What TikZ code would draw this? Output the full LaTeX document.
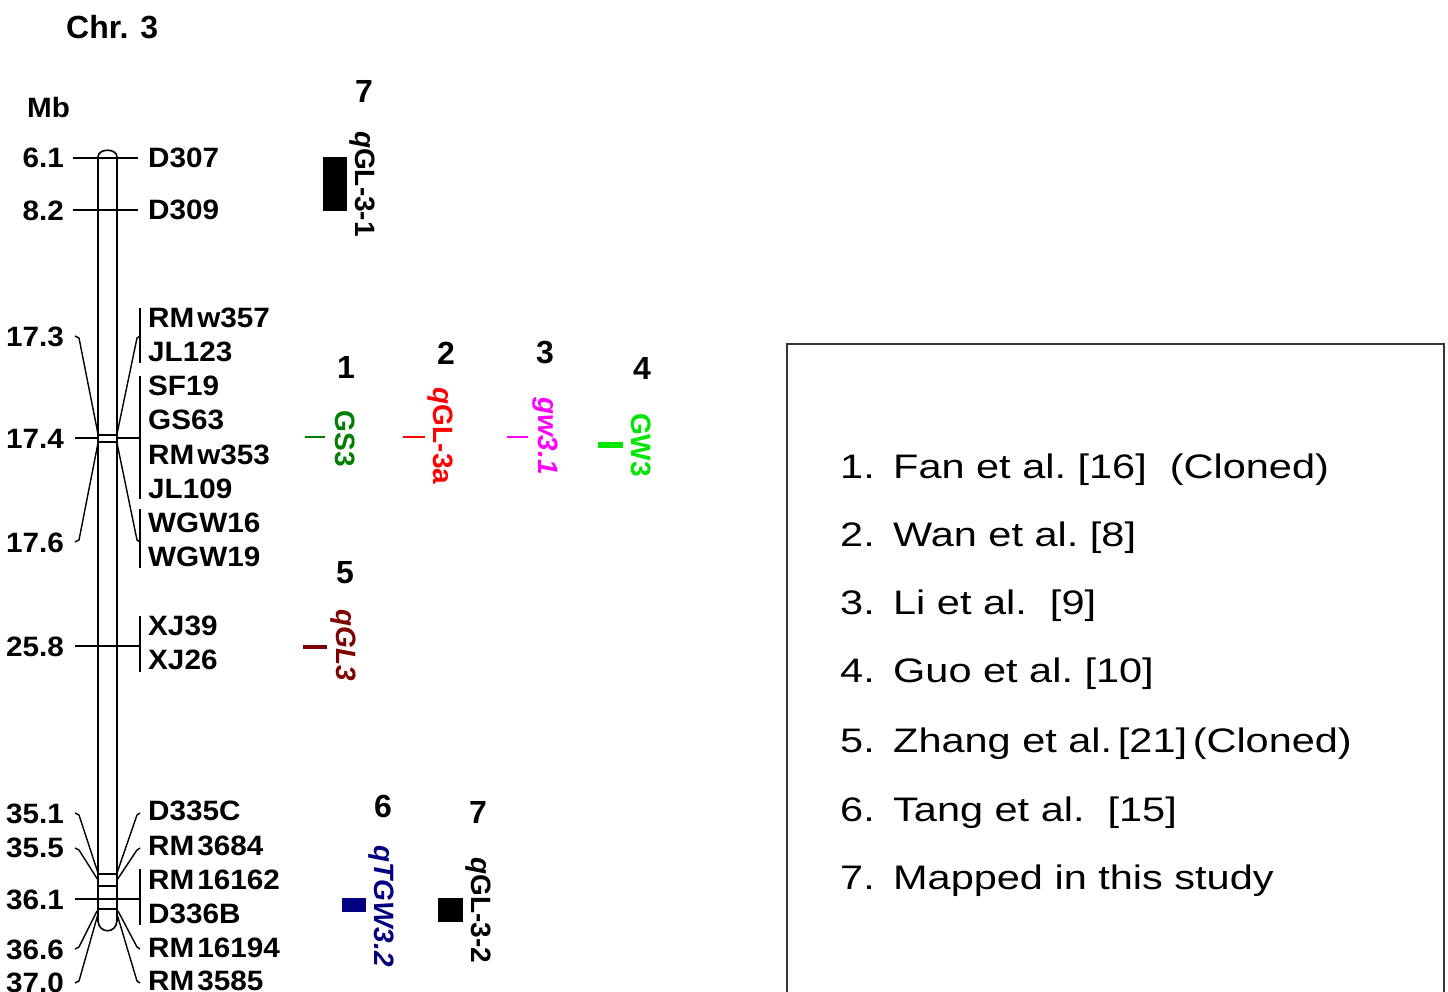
\documentclass[tikz,border=0pt]{standalone}
\usepackage{fontspec}
\setmainfont{Liberation Sans}
\newfontfamily\legfont[FakeStretch=1.22]{Liberation Sans}
\newfontfamily\mkfont[FakeStretch=1.06]{Liberation Sans}
\definecolor{gsgreen}{RGB}{0,128,0}
\definecolor{gwgreen}{RGB}{0,230,0}
\definecolor{qred}{RGB}{255,0,0}
\definecolor{qmag}{RGB}{255,0,255}
\definecolor{qbrown}{RGB}{128,0,0}
\definecolor{qnavy}{RGB}{0,0,128}
\begin{document}
\begin{tikzpicture}[x=1pt,y=-1pt]
\tikzset{
 chr/.style={line width=1.6pt},
 conn/.style={line width=1.4pt, line join=round},
 mk/.style={font=\mkfont\bfseries\fontsize{28}{30}\selectfont, inner sep=0pt},
 posl/.style={mk, anchor=east},
 mname/.style={mk, anchor=west},
 num/.style={font=\bfseries\fontsize{32}{34}\selectfont, inner sep=0pt},
 qtl/.style={font=\bfseries\fontsize{28}{30}\selectfont, rotate=-90, inner sep=0pt},
 qbar/.style={inner sep=0pt, draw=none},
 leg/.style={font=\legfont\fontsize{34}{36}\selectfont, anchor=west, inner sep=0pt},
}
\useasboundingbox (0,0) rectangle (1448,992);
\fill[white] (0,0) rectangle (1448,992);

% titles
\node[font=\bfseries\fontsize{32}{34}\selectfont, anchor=west, inner sep=0pt] (title) at (66,27) {Chr. 3};
\node[mk, anchor=west] (mb) at (27,107) {Mb};

% chromosome body
\coordinate (cTL) at (98,157);
\coordinate (cTR) at (117,157);
\coordinate (cBL) at (98,921);
\coordinate (cBR) at (117,921);
\draw[chr] (cTL) -- (cBL);
\draw[chr] (cTR) -- (cBR);
\draw[chr] (cTL) .. controls (98,148) and (117,148) .. (cTR);
\draw[chr] (cBL) .. controls (99,934) and (116,934) .. (cBR);

% bands
\draw[chr] (98,435) -- (117,435);
\draw[chr] (98,442) -- (117,442);
\draw[chr] (98,874) -- (117,874);
\draw[chr] (98,886) -- (117,886);
\draw[chr] (98,909) -- (117,909);

% position labels
\node[posl] (p61) at (64,158) {6.1};
\node[posl] (p82) at (64,211) {8.2};
\node[posl] (p173) at (64,337) {17.3};
\node[posl] (p174) at (64,439) {17.4};
\node[posl] (p176) at (64,543) {17.6};
\node[posl] (p258) at (64,647) {25.8};
\node[posl] (p351) at (64,814) {35.1};
\node[posl] (p355) at (64,848) {35.5};
\node[posl] (p361) at (64,900) {36.1};
\node[posl] (p366) at (64,950) {36.6};
\node[posl] (p370) at (64,983) {37.0};

% marker labels
\node[mname] (D307) at (148,158) {D307};
\node[mname] (D309) at (148,210) {D309};
\node[mname] (RMw357) at (148,318) {RM\hspace{3pt}w357};
\node[mname] (JL123) at (148,352) {JL123};
\node[mname] (SF19) at (148,386) {SF19};
\node[mname] (GS63) at (148,420) {GS63};
\node[mname] (RMw353) at (148,455) {RM\hspace{3pt}w353};
\node[mname] (JL109) at (148,489) {JL109};
\node[mname] (WGW16) at (148,523) {WGW16};
\node[mname] (WGW19) at (148,557) {WGW19};
\node[mname] (XJ39) at (148,626) {XJ39};
\node[mname] (XJ26) at (148,660) {XJ26};
\node[mname] (D335C) at (148,811) {D335C};
\node[mname] (RM3684) at (148,846) {RM\hspace{3pt}3684};
\node[mname] (RM16162) at (148,880) {RM\hspace{3pt}16162};
\node[mname] (D336B) at (148,914) {D336B};
\node[mname] (RM16194) at (148,948) {RM\hspace{3pt}16194};
\node[mname] (RM3585) at (148,981) {RM\hspace{3pt}3585};

% straight ticks across chromosome
\draw[conn] (73,158) -- (138,158);
\draw[conn] (73,210) -- (138,210);
\draw[conn] (75,646) -- (140,646);
\draw[conn] (75,899) -- (140,899);
\draw[conn] (75,438) -- (98,438);
\draw[conn] (117,438) -- (140,438);

% bracket bars
\draw[conn] (140,308) -- (140,363);
\draw[conn] (140,376) -- (140,499);
\draw[conn] (140,509) -- (140,568);
\draw[conn] (140,616) -- (140,672);
\draw[conn] (140,869) -- (140,925);

% diagonal connectors 17.x
\draw[conn] (75,336) -- (79,338) -- (98,434);
\draw[conn] (140,336) -- (137,338) -- (117,434);
\draw[conn] (75,542) -- (79,540) -- (98,443);
\draw[conn] (140,542) -- (137,540) -- (117,443);
% diagonal connectors 35-37
\draw[conn] (75,813) -- (79,815) -- (98,873);
\draw[conn] (75,848) -- (79,850) -- (98,880);
\draw[conn] (140,813) -- (137,815) -- (117,873);
\draw[conn] (140,848) -- (137,850) -- (117,880);
\draw[conn] (75,949) -- (79,947) -- (97,911);
\draw[conn] (75,983) -- (79,981) -- (98,914);
\draw[conn] (140,949) -- (137,947) -- (118,911);
\draw[conn] (140,983) -- (137,981) -- (117,914);

% QTL 7 (top)
\node[num] (n7a) at (364,91) {7};
\node[qbar, fill=black, minimum width=24pt, minimum height=54pt] (b7a) at (335,184.5) {};
\node[qtl] (l7a) at (362,184) {\textit{q}GL-3-1};

% QTL 1
\node[num] (n1) at (346,367) {1};
\node[qbar, fill=gsgreen, minimum width=20pt, minimum height=1.5pt] (b1) at (315,437) {};
\node[qtl, text=gsgreen] (l1) at (345,439) {GS3};

% QTL 2
\node[num] (n2) at (446,353) {2};
\node[qbar, fill=qred, minimum width=22pt, minimum height=2.5pt] (b2) at (414,437) {};
\node[qtl, text=qred] (l2) at (440,436) {\textit{q}GL-3a};

% QTL 3
\node[num] (n3) at (545,353) {3};
\node[qbar, fill=qmag, minimum width=21pt, minimum height=2.5pt] (b3) at (517.5,437) {};
\node[qtl, text=qmag] (l3) at (545,436) {\textit{gw3.1}};

% QTL 4
\node[num] (n4) at (642,368) {4};
\node[qbar, fill=gwgreen, minimum width=25pt, minimum height=6pt] (b4) at (610.5,444.5) {};
\node[qtl, text=gwgreen] (l4) at (641,445) {GW3};

% QTL 5
\node[num] (n5) at (345,573) {5};
\node[qbar, fill=qbrown, minimum width=24pt, minimum height=4pt] (b5) at (315,646.5) {};
\node[qtl, text=qbrown] (l5) at (343,645) {\textit{qGL3}};

% QTL 6
\node[num] (n6) at (383,806) {6};
\node[qbar, fill=qnavy, minimum width=24pt, minimum height=14pt] (b6) at (354,905) {};
\node[qtl, text=qnavy] (l6) at (381,906) {\textit{qTGW3.2}};

% QTL 7 (bottom)
\node[num] (n7b) at (478,812) {7};
\node[qbar, fill=black, minimum width=25pt, minimum height=24pt] (b7b) at (450.5,910) {};
\node[qtl] (l7b) at (478,910) {\textit{q}GL-3-2};

% legend
\draw[line width=1.8pt, draw=black!80] (787,344) rectangle (1444,1010);
\node[leg] (e1) at (840,470) {\makebox[53pt][l]{1.}Fan et al.\ [16]\ \ (Cloned)};
\node[leg] (e2) at (840,538) {\makebox[53pt][l]{2.}Wan et al.\ [8]};
\node[leg] (e3) at (840,606) {\makebox[53pt][l]{3.}Li et al.\ \ [9]};
\node[leg] (e4) at (840,674) {\makebox[53pt][l]{4.}Guo et al.\ [10]};
\node[leg] (e5) at (840,744) {\makebox[53pt][l]{5.}Zhang et al.\,[21]\,(Cloned)};
\node[leg] (e6) at (840,813) {\makebox[53pt][l]{6.}Tang et al.\ \ [15]};
\node[leg] (e7) at (840,881) {\makebox[53pt][l]{7.}Mapped in this study};
\end{tikzpicture}
\end{document}
